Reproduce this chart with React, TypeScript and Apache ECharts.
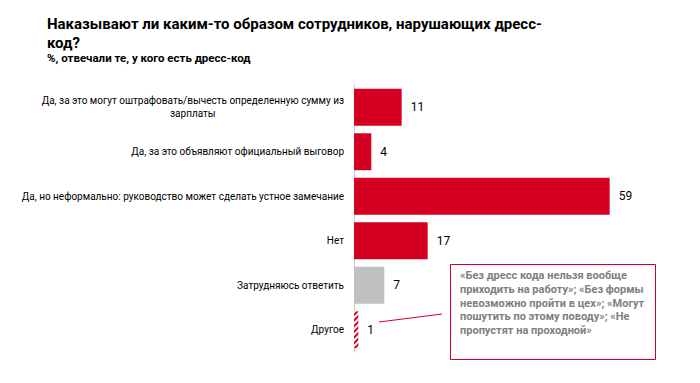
import React, { useEffect, useRef } from "react";
import * as echarts from "echarts";

const categories = [
  "Да, за это могут оштрафовать/вычесть определенную сумму из\nзарплаты",
  "Да, за это объявляют официальный выговор",
  "Да, но неформально: руководство может сделать устное замечание",
  "Нет",
  "Затрудняюсь ответить",
  "Другое",
];
const values = [11, 4, 59, 17, 7, 1];
const barKinds = ["red", "red", "red", "red", "grey", "hatch"];

const titleText = "Наказывают ли каким-то образом сотрудников, нарушающих дресс-\nкод?";
const subtitleText = "%, отвечали те, у кого есть дресс-код";
const calloutText =
  "«Без дресс кода нельзя вообще\nприходить на работу»; «Без формы\nневозможно пройти в цех»; «Могут\nпошутить по этому поводу»; «Не\nпропустят на проходной»";

const RED = "#d50021";
const GREY = "#c0c0c0";
const FONT = "Roboto, 'DejaVu Sans Condensed', sans-serif";

export default function App() {
  const ref = useRef<HTMLDivElement>(null);
  useEffect(() => {
    document.body.style.margin = "0";
    if (!ref.current) return;
    const chart = echarts.init(ref.current, null, { renderer: "svg" });
    const data = values.map((v, i) => {
      const k = barKinds[i];
      if (k === "red") return { value: v, itemStyle: { color: RED } };
      if (k === "grey") return { value: v, itemStyle: { color: GREY } };
      return {
        value: v,
        itemStyle: {
          color: "#ffffff",
          decal: {
            symbol: "rect",
            symbolSize: 1,
            color: RED,
            backgroundColor: "#ffffff",
            dashArrayX: [1, 0],
            dashArrayY: [1.5, 2],
            rotation: -Math.PI / 4,
          },
        },
      };
    });
    chart.setOption({
      animation: false,
      backgroundColor: "#ffffff",
      textStyle: { fontFamily: FONT },
      title: {
        text: titleText,
        subtext: subtitleText,
        left: 42,
        top: 9,
        itemGap: 0,
        textStyle: { fontFamily: FONT, fontSize: 15, fontWeight: "bold", color: "#000", lineHeight: 19 },
        subtextStyle: { fontFamily: FONT, fontSize: 11.5, fontWeight: "bold", color: "#000" },
      },
      grid: { left: 354, top: 85, height: 267, width: 260 },
      xAxis: { type: "value", min: 0, max: 60, show: false },
      yAxis: {
        type: "category",
        inverse: true,
        data: categories,
        axisLine: { show: true, lineStyle: { color: "#cccccc", width: 1 } },
        axisTick: { show: false },
        axisLabel: {
          margin: 10,
          formatter: (s: string) =>
            s
              .split("\n")
              .map((l) => "{a|" + l + "}")
              .join("\n"),
          rich: {
            a: { fontFamily: FONT, fontSize: 10, color: "#000", align: "center", lineHeight: 13 },
          },
        },
      },
      series: [
        {
          type: "bar",
          data,
          barCategoryGap: "17%",
          label: {
            show: true,
            position: "right",
            distance: 9,
            fontFamily: FONT,
            fontSize: 12,
            color: "#000",
          },
        },
      ],
      graphic: [
        {
          type: "line",
          shape: { x1: 379, y1: 322, x2: 442, y2: 314 },
          style: { stroke: RED, lineWidth: 1 },
        },
        {
          type: "rect",
          shape: { x: 450.5, y: 264.5, width: 205, height: 95 },
          style: { fill: "#ffffff", stroke: RED, lineWidth: 1 },
        },
        {
          type: "text",
          x: 460,
          y: 269,
          style: {
            text: calloutText,
            fill: "#808080",
            font: "bold 11px " + FONT,
            lineHeight: 13.7,
          },
        },
      ],
    });
    return () => chart.dispose();
  }, []);
  return <div ref={ref} style={{ width: 700, height: 383 }} />;
}
